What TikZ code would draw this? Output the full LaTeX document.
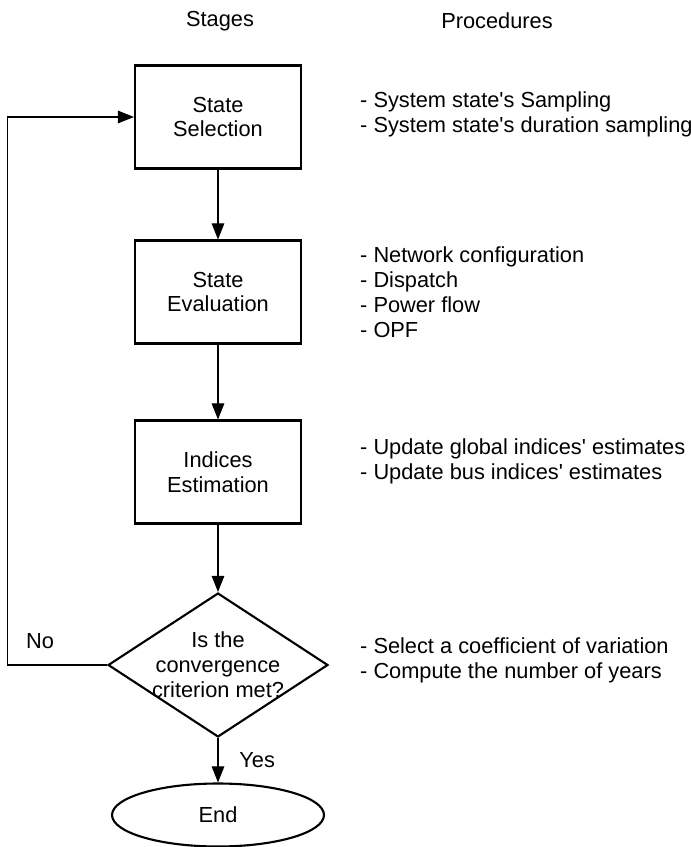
\documentclass[tikz,border=0pt]{standalone}
\usepackage{fontspec}
\setmainfont{Liberation Sans}
\usetikzlibrary{shapes.geometric,arrows.meta}
\newcommand{\apos}{\textquotesingle}
\tikzset{stage/.style = {draw, fill=white, very thick, rectangle, minimum height=2.06cm, minimum width=3.32cm, align=center},
         decision/.style = {draw, fill=white, very thick, diamond, minimum height=2.88cm, minimum width=4.4cm, inner sep=0pt},
         terminal/.style = {draw, fill=white, very thick, ellipse, minimum height=1.26cm, minimum width=4.24cm},
         proc/.style = {anchor=west, align=left},
         flow/.style = {semithick, -{Triangle[length=0.32cm, width=0.25cm]}}}

\begin{document}
\begin{tikzpicture}[x=0.02cm, y=-0.02cm, font=\fontsize{12.4}{14.2}\selectfont]
        \useasboundingbox (0,0) rectangle (690,847);
        % headings
        \node (stages) at (220,21) {Stages};
        \node (procs) at (497,21) {Procedures};

        % stages
        \node[stage] (select) at (218,117) {State\\Selection};
        \node[stage] (eval) at (218,292) {State\\Evaluation};
        \node[stage] (indices) at (218,472) {Indices\\Estimation};
        \node[decision] (conv) at (218,665) {};
        \node[align=center] (convtext) at (218,665) {Is the\\convergence\\criterion met?};
        \node[terminal] (end) at (218,815) {End};

        % procedures
        \node[proc] (selectproc) at (354,114) {- System state\apos s Sampling\\- System state\apos s duration sampling};
        \node[proc] (evalproc) at (354,292) {- Network configuration\\- Dispatch\\- Power flow\\- OPF};
        \node[proc] (indicesproc) at (354,461) {- Update global indices\apos{} estimates\\- Update bus indices\apos{} estimates};
        \node[proc] (convproc) at (354,660) {- Select a coefficient of variation\\- Compute the number of years};

        % flow
        \draw[flow] (select) -- (eval);
        \draw[flow] (eval) -- (indices);
        \draw[flow] (indices) -- (conv);
        \draw[flow] (conv) -- node[right=0.3cm]{Yes} (end);
        \coordinate (loop) at (7.5,665);
        \draw[flow] (conv.west) -- (loop) |- (select.west);
        \node (no) at (40,641) {No};
\end{tikzpicture}
\end{document}
